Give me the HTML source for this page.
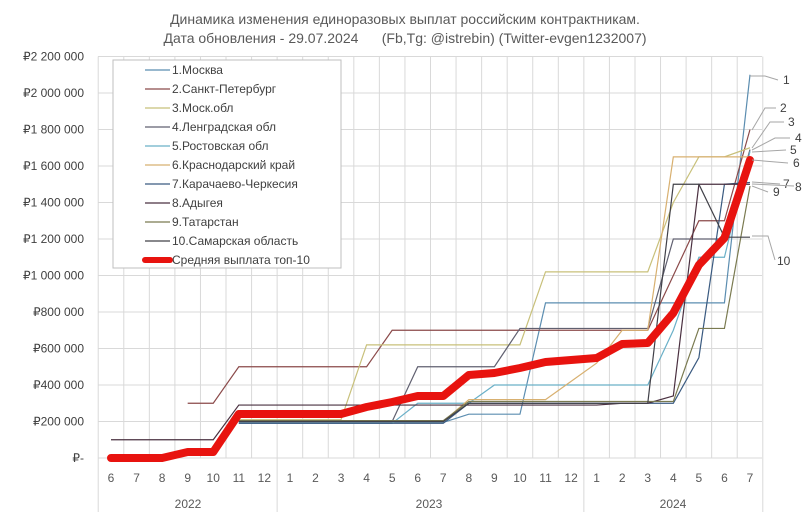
<!DOCTYPE html><html><head><meta charset="utf-8"><style>body{margin:0;background:#fff}svg{font-family:"Liberation Sans",sans-serif}</style></head><body>
<svg width="811" height="512" viewBox="0 0 811 512" xmlns="http://www.w3.org/2000/svg">
<g id="grid" stroke="#d9d9d9" stroke-width="1"></g>
<text x="405" y="24" text-anchor="middle" font-size="14" fill="#595959">Динамика изменения единоразовых выплат российским контрактникам.</text>
<text x="405" y="43" text-anchor="middle" font-size="14" fill="#595959" style="white-space:pre">Дата обновления - 29.07.2024      (Fb,Tg: @istrebin) (Twitter-evgen1232007)</text>
<g id="yl" font-size="12" fill="#404040" text-anchor="end"></g>
<g id="xl" font-size="12" fill="#595959" text-anchor="middle"></g>
<g id="ser" fill="none"></g>
<g id="lab" font-size="12" fill="#404040"></g>
<rect x="113" y="60" width="228" height="208" fill="#fff" stroke="#bfbfbf"/>
<g id="leg" font-size="12" fill="#404040"></g>
</svg>
<script>
const NS="http://www.w3.org/2000/svg";
function el(p,t,a,txt){const e=document.createElementNS(NS,t);for(const k in a)e.setAttribute(k,a[k]);if(txt!=null)e.textContent=txt;document.getElementById(p).appendChild(e);return e;}
const X=i=>111+25.56*i, Y=v=>458-v*0.1825;
for(let k=0;k<=11;k++){const y=Y(k*200);el('grid','line',{x1:98,x2:762,y1:y,y2:y});
el('yl','text',{x:84,y:y+4},k==0?'₽-':'₽'+(k*200>=1000?Math.floor(k*200/1000)+' '+String(k*200%1000).padStart(3,'0')+' 000':(k*200)+' 000'));}
for(let i=0;i<=26;i++){const x=X(i)-12.78;el('grid','line',{x1:x,x2:x,y1:Y(2200),y2:(i==0||i==7||i==19||i==26)?512:458});}
const m=[6,7,8,9,10,11,12,1,2,3,4,5,6,7,8,9,10,11,12,1,2,3,4,5,6,7];
m.forEach((v,i)=>el('xl','text',{x:X(i),y:482},v));
el('xl','text',{x:188,y:508},'2022');el('xl','text',{x:429,y:508},'2023');el('xl','text',{x:673,y:508},'2024');
const N=null;
const S=[
['#5b8db0',[N,N,N,N,N,195,195,195,195,195,195,195,195,195,240,240,240,850,850,850,850,850,850,850,850,2100]],
['#8b4a4a',[N,N,N,300,300,500,500,500,500,500,500,700,700,700,700,700,700,700,700,700,700,700,1000,1300,1300,1800]],
['#c8c07a',[N,N,N,N,N,210,210,210,210,210,620,620,620,620,620,620,620,1020,1020,1020,1020,1020,1400,1650,1650,1700]],
['#606070',[N,N,N,N,N,200,200,200,200,200,200,200,500,500,500,500,710,710,710,710,710,710,1200,1200,1200,1690]],
['#6ab0c8',[N,N,N,N,N,190,190,190,190,190,190,190,300,300,300,400,400,400,400,400,400,400,700,1100,1100,1680]],
['#d8b070',[N,N,N,N,N,200,200,200,200,200,200,200,200,200,320,320,320,320,420,520,700,700,1650,1650,1650,1650]],
['#3a5a80',[N,N,N,N,N,190,190,190,190,190,190,190,190,190,300,300,300,300,300,300,300,300,300,550,1500,1510]],
['#4a3040',[100,100,100,100,100,290,290,290,290,290,290,290,290,290,290,290,290,290,290,290,300,300,340,1500,1500,1500]],
['#7a7a50',[N,N,N,N,N,205,205,205,205,205,205,205,205,205,310,310,310,310,310,310,310,310,310,710,710,1490]],
['#404048',[N,N,N,N,N,200,200,200,200,200,200,200,200,200,300,300,300,300,300,300,300,300,1500,1500,1210,1210]]];
S.forEach(([c,d])=>{let p=[];d.forEach((v,i)=>{if(v!=null)p.push(X(i)+','+Y(v))});el('ser','polyline',{points:p.join(' '),stroke:c,'stroke-width':1.2});});
const R=[458,458,458,452,452,414,414,414,414,414,407,402,396,396,375,373,368,362,360,358,344,343,313,265,238,160];
el('ser','polyline',{points:R.map((y,i)=>X(i)+','+y).join(' '),stroke:'#e8130f','stroke-width':8,'stroke-linejoin':'round','stroke-linecap':'round'});
const L=[['1',783,84,[750,76,765,76,778,80]],['2',780,112,[752,130,765,108,776,108]],['3',788,126,[752,148,770,122,784,122]],['4',795,142,[752,150,775,138,790,138]],['5',790,154,[752,152,786,150]],['6',793,167,[752,160,788,163]],['7',783,188,[752,182,780,184]],['8',795,191,[752,184,794,186]],['9',773,196,[752,186,768,192]],['10',777,265,[752,236,768,236,775,260]]];
L.forEach(([t,x,y,p])=>{el('lab','text',{x:x,y:y},t);const q=[];for(let i=0;i<p.length;i+=2)q.push(p[i]+','+p[i+1]);el('lab','polyline',{points:q.join(' '),fill:'none',stroke:'#a6a6a6','stroke-width':1});});
const names=['1.Москва','2.Санкт-Петербург','3.Моск.обл','4.Ленградская обл','5.Ростовская обл','6.Краснодарский край','7.Карачаево-Черкесия','8.Адыгея','9.Татарстан','10.Самарская область','Средняя выплата топ-10'];
names.forEach((n,i)=>{const y=70+19*i;const last=i==10;el('leg','line',{x1:145,x2:170,y1:y,y2:y,stroke:last?'#e8130f':S[i][0],'stroke-width':last?6:1.2,'stroke-linecap':last?'round':'butt'});el('leg','text',{x:172,y:y+4},n);});
</script>
</body></html>
